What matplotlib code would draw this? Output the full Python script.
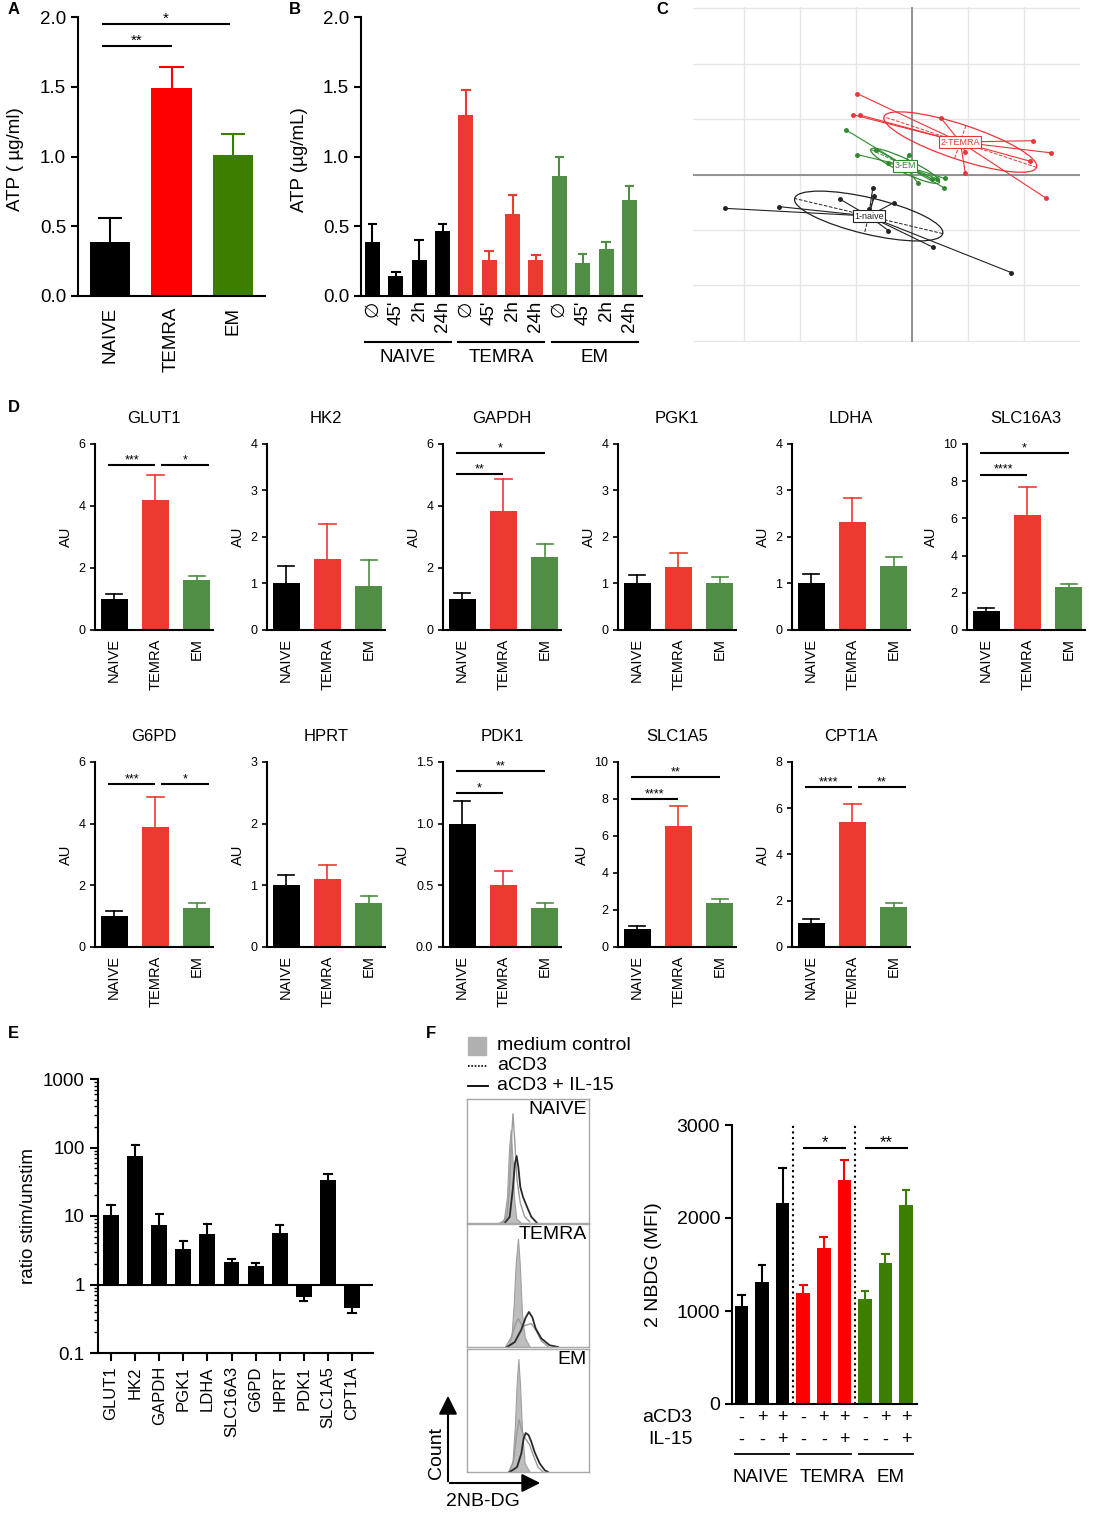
import numpy as np
import matplotlib
matplotlib.use('Agg')
import matplotlib.pyplot as plt
import matplotlib.transforms as mtrans
from matplotlib.patches import Ellipse, Rectangle
from matplotlib.ticker import LogLocator, NullFormatter, FixedFormatter, FixedLocator

plt.rcParams['font.family'] = ['Liberation Sans', 'DejaVu Sans']
plt.rcParams['axes.linewidth'] = 1.5

# ---------------- data ----------------
groups = ['NAIVE', 'TEMRA', 'EM']

# A - ATP of resting subsets
atp_mean = [0.39, 1.49, 1.01]
atp_sem = [0.17, 0.15, 0.15]
atp_sig = [(0, 1, 1.79, '**'), (0, 2, 1.95, '*')]

# B - ATP after stimulation
time_labels = ['\u2205', "45'", '2h', '24h']
atp_naive_t = [0.39, 0.14, 0.26, 0.465]
atp_naive_t_sem = [0.125, 0.035, 0.14, 0.05]
atp_temra_t = [1.30, 0.26, 0.59, 0.26]
atp_temra_t_sem = [0.18, 0.06, 0.135, 0.035]
atp_em_t = [0.86, 0.24, 0.34, 0.685]
atp_em_t_sem = [0.135, 0.06, 0.05, 0.105]

# C - PCA scores per subset
pca_naive = [(-3.33, -0.61), (-2.36, -0.58), (-1.29, -0.44), (-0.70, -0.25), (-0.67, -0.39),
             (-0.76, -0.62), (-0.33, -0.51), (-0.42, -1.01), (0.37, -1.31), (1.77, -1.77)]
pca_temra = [(-0.98, 1.46), (-1.06, 1.08), (-0.92, 1.07), (0.52, 1.01), (2.15, 0.61),
             (2.48, 0.39), (2.10, 0.24), (0.95, 0.40), (0.95, 0.02), (2.39, -0.43)]
pca_em = [(-1.17, 0.80), (-0.98, 0.36), (-0.64, 0.45), (-0.43, 0.20), (-0.06, 0.36),
          (0.10, -0.15), (0.35, -0.08), (0.45, -0.08), (0.58, -0.07), (0.57, -0.24)]

# D - gene expression (AU)
d_genes = ['GLUT1', 'HK2', 'GAPDH', 'PGK1', 'LDHA', 'SLC16A3',
           'G6PD', 'HPRT', 'PDK1', 'SLC1A5', 'CPT1A']
d_mean = [[1.0, 4.2, 1.6], [1.0, 1.52, 0.95], [1.0, 3.84, 2.37], [1.0, 1.36, 1.02],
          [1.0, 2.32, 1.38], [1.0, 6.18, 2.29], [1.0, 3.9, 1.26], [1.0, 1.10, 0.72],
          [1.0, 0.50, 0.32], [0.98, 6.52, 2.38], [1.03, 5.39, 1.71]]
d_sem = [[0.15, 0.8, 0.15], [0.38, 0.76, 0.55], [0.19, 1.02, 0.40], [0.19, 0.30, 0.13],
         [0.2, 0.52, 0.2], [0.16, 1.52, 0.17], [0.17, 0.97, 0.16], [0.17, 0.23, 0.11],
         [0.18, 0.12, 0.036], [0.16, 1.12, 0.21], [0.18, 0.78, 0.19]]
d_ymax = [6, 4, 6, 4, 4, 10, 6, 3, 1.5, 10, 8]
d_ystep = [2, 1, 2, 1, 1, 2, 2, 1, 0.5, 2, 2]
d_sig = [[(0, 1, 5.33, '***'), (1, 2, 5.33, '*')], [],
         [(0, 1, 5.02, '**'), (0, 2, 5.71, '*')], [], [],
         [(0, 1, 8.36, '****'), (0, 2, 9.52, '*')],
         [(0, 1, 5.3, '***'), (1, 2, 5.3, '*')], [],
         [(0, 1, 1.25, '*'), (0, 2, 1.43, '**')],
         [(0, 1, 7.98, '****'), (0, 2, 9.2, '**')],
         [(0, 1, 6.9, '****'), (1, 2, 6.9, '**')]]

# E - ratio stimulated / unstimulated
e_genes = ['GLUT1', 'HK2', 'GAPDH', 'PGK1', 'LDHA', 'SLC16A3',
           'G6PD', 'HPRT', 'PDK1', 'SLC1A5', 'CPT1A']
e_ratio = [10.3, 76, 7.5, 3.3, 5.4, 2.14, 1.85, 5.6, 0.65, 34, 0.45]
e_err_end = [14.4, 108, 10.8, 4.3, 7.7, 2.34, 2.05, 7.5, 0.57, 40.4, 0.385]

# F - 2-NBDG histograms (x, y in % of box)
hist_naive_ctrl = ([25.4, 30.1, 32.8, 34.4, 35.8, 37.2, 38.5, 40.4, 44.5],
                   [0, 2.2, 21, 59, 75, 53.5, 21, 3.5, 0])
hist_naive_cd3 = ([28.1, 32.8, 35.0, 36.6, 37.7, 39.1, 41.0, 43.7, 47.3, 51.4],
                  [0, 5, 32, 70, 88, 67, 35, 16, 5, 1])
hist_naive_il15 = ([30.9, 35.0, 37.7, 39.3, 40.7, 42.1, 43.7, 45.9, 49.2, 52.7, 57.4],
                   [0, 5, 29, 48, 54, 45, 29, 21, 13, 5, 0])
hist_temra_ctrl = ([32.8, 36.3, 38.3, 39.9, 41.8, 43.2, 45.1, 47.3, 51.4],
                   [0, 7, 35, 68, 88, 68, 27, 8, 0])
hist_temra_cd3 = ([31.7, 36.3, 39.9, 42.1, 45.4, 49.2, 52.7, 56.3, 60.9, 66.4],
                  [0, 8, 19, 23, 17, 18, 19, 14, 5, 0.5])
hist_temra_il15 = ([32.8, 39.1, 44.5, 48.1, 50.8, 53.6, 56.3, 60.9, 67.8, 74.6],
                   [0, 4, 14, 24, 28.5, 24, 15, 7, 1.4, 0])
hist_em_ctrl = ([33.6, 37.2, 39.3, 40.7, 42.1, 43.4, 45.1, 47.3, 51.4],
                [0, 7, 39, 72, 92, 72, 34, 7, 0])
hist_em_cd3 = ([34.4, 38.3, 40.4, 42.6, 44.8, 47.3, 51.4, 54.6, 58.2, 62.3],
               [0, 9.5, 28, 42.5, 34, 28, 22, 13, 4, 0])
hist_em_il15 = ([35.0, 41.0, 44.5, 46.4, 48.1, 50.5, 52.7, 55.5, 59.6, 63.7, 66.4],
                [0, 4, 15, 27, 31.7, 30, 24.6, 16, 7, 1.4, 0])

# F - 2-NBDG MFI
f_means = [1049, 1310, 2159, 1192, 1675, 2409, 1131, 1514, 2141]
f_sems = [118, 186, 383, 90, 126, 212, 86, 97, 157]
f_acd3 = ['-', '+', '+'] * 3
f_il15 = ['-', '-', '+'] * 3
f_sig = [(3, 5, 2757, '*'), (6, 8, 2757, '**')]

# ---------------- figure ----------------
W, H = 1097, 1516
fig = plt.figure(figsize=(W / 100, H / 100), dpi=100)

bright = ['black', '#FF0000', '#3C7F00']
soft = ['black', '#EC3A31', '#4F8E44']


def px_axes(l, t, r, b):
    return fig.add_axes([l / W, 1 - b / H, (r - l) / W, (b - t) / H])


def prism(ax, ylen=5, yw=1.5):
    ax.spines['top'].set_visible(False)
    ax.spines['right'].set_visible(False)
    ax.tick_params(axis='y', direction='out', length=ylen, width=yw)
    ax.tick_params(axis='x', length=0)


def bars(ax, x, means, sems, colors, width, capw, lw=1.5):
    ax.bar(x, means, width, color=colors, zorder=2)
    for xi, m, s, c in zip(x, means, sems, colors):
        ax.plot([xi, xi], [m, m + s], color=c, lw=lw, zorder=1)
        ax.plot([xi - capw, xi + capw], [m + s, m + s], color=c, lw=lw, zorder=1)


def sig(ax, x1, x2, y, txt, fs, lw=1.5, dy=-1):
    ax.plot([x1, x2], [y, y], color='black', lw=lw, solid_capstyle='butt', clip_on=False)
    ax.annotate(txt, ((x1 + x2) / 2, y), xytext=(0, dy), textcoords='offset points',
                ha='center', va='bottom', fontsize=fs)


# ---- A ----
ax = px_axes(78, 17, 265, 296)
xa = np.arange(3)
bars(ax, xa, atp_mean, atp_sem, bright, 0.66, 0.18)
for i, j, y, t in atp_sig:
    sig(ax, i - 0.13, j - (0.05 if j == 2 else 0), y, t, 11)
ax.set_xlim(-0.52, 2.52)
ax.set_ylim(0, 2.0)
ax.set_yticks([0, 0.5, 1.0, 1.5, 2.0])
ax.set_yticklabels(['0.0', '0.5', '1.0', '1.5', '2.0'], fontsize=13.5)
ax.set_xticks(xa)
ax.set_xticklabels(groups, rotation=90, fontsize=13.5)
ax.tick_params(axis='x', pad=8)
prism(ax)
ax.set_ylabel('ATP ( \u00b5g/ml)', fontsize=13.5)
ax.yaxis.set_label_coords(-0.29, 0.49)

# ---- B ----
ax = px_axes(361, 17, 642, 296)
xb = np.arange(12)
b_vals = atp_naive_t + atp_temra_t + atp_em_t
b_sems = atp_naive_t_sem + atp_temra_t_sem + atp_em_t_sem
b_cols = [soft[0]] * 4 + [soft[1]] * 4 + [soft[2]] * 4
bars(ax, xb, b_vals, b_sems, b_cols, 0.64, 0.16)
ax.set_xlim(-0.49, 11.54)
ax.set_ylim(0, 2.0)
ax.set_yticks([0, 0.5, 1.0, 1.5, 2.0])
ax.set_yticklabels(['0.0', '0.5', '1.0', '1.5', '2.0'], fontsize=13.5)
ax.set_xticks(xb)
ax.set_xticklabels(time_labels * 3, rotation=90, fontsize=13.5)
ax.tick_params(axis='x', pad=3)
prism(ax)
ax.set_ylabel('ATP (\u00b5g/mL)', fontsize=13.5)
ax.yaxis.set_label_coords(-0.19, 0.49)
tb = mtrans.blended_transform_factory(ax.transData, ax.transAxes)
for g, name in enumerate(groups):
    x0, x1 = g * 4 - 0.33, g * 4 + 3 + 0.35
    ax.plot([x0, x1], [-0.165, -0.165], color='black', lw=1.5, transform=tb, clip_on=False)
    ax.text((x0 + x1) / 2, -0.22, name, ha='center', va='center', fontsize=13.5, transform=tb)

# ---- C ----
ax = px_axes(693, 7, 1080, 342)
ax.set_xlim(-3.9, 2.99)
ax.set_ylim(-3.02, 3.02)
for v in range(-3, 3):
    ax.axvline(v, color='#E6E6E6', lw=1, zorder=0)
for v in range(-3, 4):
    ax.axhline(v, color='#E6E6E6', lw=1, zorder=0)
ax.axvline(0, color='#8A8A8A', lw=1.3, zorder=0.5)
ax.axhline(0, color='#8A8A8A', lw=1.3, zorder=0.5)
for s in ax.spines.values():
    s.set_visible(False)
ax.set_xticks([])
ax.set_yticks([])


def class_ellipse(ax, pts, color, label):
    pts = np.array(pts)
    c = pts.mean(axis=0)
    for p in pts:
        ax.plot([c[0], p[0]], [c[1], p[1]], color=color, lw=0.8)
    ax.plot(pts[:, 0], pts[:, 1], 'o', color=color, ms=2.5)
    cov = np.cov(pts.T, bias=True)
    vals, vecs = np.linalg.eigh(cov)
    half = np.sqrt(vals)
    ang = np.degrees(np.arctan2(vecs[1, 1], vecs[0, 1]))
    ax.add_patch(Ellipse(c, 2 * half[1], 2 * half[0], angle=ang, fill=False, ec=color, lw=0.9))
    for k in range(2):
        d = vecs[:, k] * half[k]
        ax.plot([c[0] - d[0], c[0] + d[0]], [c[1] - d[1], c[1] + d[1]], ls='--', color=color, lw=0.7)
    ax.text(c[0], c[1], label, color=color, fontsize=6.5, ha='center', va='center', zorder=5,
            bbox=dict(boxstyle='square,pad=0.15', fc='white', ec=color, lw=0.8))


class_ellipse(ax, pca_naive, '#222222', '1-naive')
class_ellipse(ax, pca_temra, '#EE3338', '2-TEMRA')
class_ellipse(ax, pca_em, '#2F8A2F', '3-EM')

# ---- D ----
d_lefts = [95, 267, 443, 618, 792, 967]
d_rows = [(444, 630), (762, 947)]
for k, gene in enumerate(d_genes):
    row, col = divmod(k, 6)
    t, b = d_rows[row]
    l = d_lefts[col]
    ax = px_axes(l, t, l + 118, b)
    x = np.arange(3)
    bars(ax, x, d_mean[k], d_sem[k], soft, 0.65, 0.2, lw=1.2)
    for i, j, y, txt in d_sig[k]:
        if i == 0:
            x0, x1 = -0.15, j
        else:
            x0, x1 = i + 0.13, j + 0.3
        sig(ax, x0, x1, y, txt, 9, lw=1.5, dy=-1)
    ax.set_xlim(-0.46, 2.39)
    ax.set_ylim(0, d_ymax[k])
    ticks = np.arange(0, d_ymax[k] + 1e-9, d_ystep[k])
    ax.set_yticks(ticks)
    if d_ystep[k] < 1:
        ax.set_yticklabels(['%.1f' % v for v in ticks], fontsize=9)
    else:
        ax.set_yticklabels(['%d' % v for v in ticks], fontsize=9)
    ax.set_xticks(x)
    ax.set_xticklabels(groups, rotation=90, fontsize=10.5)
    ax.tick_params(axis='x', pad=6)
    prism(ax, ylen=3.5, yw=1.2)
    ax.set_ylabel('AU', fontsize=10.5)
    ax.set_title(gene, fontsize=12, pad=15)

# ---- E ----
ax = px_axes(98, 1079, 373, 1353)
xe = np.arange(len(e_genes))
ax.set_yscale('log')
ratio = np.array(e_ratio)
ax.bar(xe, ratio - 1, 0.66, bottom=1, color='black', zorder=2)
for xi, r, e in zip(xe, e_ratio, e_err_end):
    ax.plot([xi, xi], [r, e], color='black', lw=1.5)
    ax.plot([xi - 0.15, xi + 0.15], [e, e], color='black', lw=1.5)
ax.axhline(1, color='black', lw=1.5, zorder=3)
ax.set_xlim(-0.54, 10.87)
ax.set_ylim(0.1, 1000)
ax.yaxis.set_major_locator(FixedLocator([0.1, 1, 10, 100, 1000]))
ax.yaxis.set_major_formatter(FixedFormatter(['0.1', '1', '10', '100', '1000']))
ax.yaxis.set_minor_locator(LogLocator(base=10, subs=np.arange(2, 10)))
ax.yaxis.set_minor_formatter(NullFormatter())
ax.spines['top'].set_visible(False)
ax.spines['right'].set_visible(False)
ax.tick_params(axis='y', which='major', length=6, width=1.5, labelsize=13.5)
ax.tick_params(axis='y', which='minor', length=3, width=1)
ax.set_xticks(xe)
ax.set_xticklabels(e_genes, rotation=90, fontsize=12)
ax.tick_params(axis='x', length=6, width=1.5)
ax.set_ylabel('ratio stim/unstim', fontsize=13.5)

# ---- F histograms ----
boxes = [(1099, 1223, 'NAIVE', hist_naive_ctrl, hist_naive_cd3, hist_naive_il15),
         (1224, 1347, 'TEMRA', hist_temra_ctrl, hist_temra_cd3, hist_temra_il15),
         (1349, 1472, 'EM', hist_em_ctrl, hist_em_cd3, hist_em_il15)]
for t, b, name, ctrl, cd3, il15 in boxes:
    ax = px_axes(467, t, 589, b)
    ax.fill_between(ctrl[0], ctrl[1], color='#BDBDBD', lw=0.8, edgecolor='#A0A0A0')
    ax.plot(cd3[0], cd3[1], color='#9A9A9A', lw=1.0)
    ax.plot(il15[0], il15[1], color='#2A2A2A', lw=1.3)
    ax.set_xlim(0, 100)
    ax.set_ylim(0, 100)
    ax.set_xticks([])
    ax.set_yticks([])
    for s in ax.spines.values():
        s.set_color('#A8A8A8')
        s.set_linewidth(1)
    ax.text(0.98, 0.98, name, ha='right', va='top', fontsize=14, transform=ax.transAxes)

# ---- F bars ----
ax = px_axes(732, 1125, 917, 1404)
xf = np.arange(9)
f_cols = [bright[0]] * 3 + [bright[1]] * 3 + [bright[2]] * 3
bars(ax, xf, f_means, f_sems, f_cols, 0.66, 0.16)
for v in (2.5, 5.5):
    ax.axvline(v, color='black', ls=':', lw=1.5)
for i, j, y, txt in f_sig:
    sig(ax, i, j + 0.1, y, txt, 12, dy=-2)
ax.set_xlim(-0.47, 8.54)
ax.set_ylim(0, 3000)
ax.set_yticks([0, 1000, 2000, 3000])
ax.set_yticklabels(['0', '1000', '2000', '3000'], fontsize=14)
ax.set_xticks([])
prism(ax)
ax.set_ylabel('2 NBDG (MFI)', fontsize=14)
ax.yaxis.set_label_coords(-0.38, 0.5)
tf = mtrans.blended_transform_factory(ax.transData, ax.transAxes)
for xi, a, il in zip(xf, f_acd3, f_il15):
    ax.text(xi, -0.05, a, ha='center', va='center', fontsize=13, transform=tf)
    ax.text(xi, -0.129, il, ha='center', va='center', fontsize=13, transform=tf)
ax.text(-2.4, -0.05, 'aCD3', ha='right', va='center', fontsize=14, transform=tf)
ax.text(-2.4, -0.129, 'IL-15', ha='right', va='center', fontsize=14, transform=tf)
label_shift = [-0.1, 0.4, 0.25]
for g, name in enumerate(groups):
    x0, x1 = g * 3 - 0.3, g * 3 + 2.33
    ax.plot([x0, x1], [-0.179, -0.179], color='black', lw=1.3, transform=tf, clip_on=False)
    ax.text((x0 + x1) / 2 + label_shift[g], -0.262, name, ha='center', va='center',
            fontsize=13.5, transform=tf)

# ---- overlay: panel letters, histogram legend and axis arrows ----
ov = fig.add_axes([0, 0, 1, 1])
ov.set_xlim(0, W)
ov.set_ylim(H, 0)
ov.axis('off')
ov.patch.set_alpha(0)
for letter, (lx, ly) in zip('ABCDEF', [(8, 10), (289, 10), (656, 10), (8, 408), (8, 1033), (426, 1033)]):
    ov.text(lx, ly, letter, fontsize=12, fontweight='bold', ha='left', va='center')
ov.add_patch(Rectangle((468, 1037), 18, 18, color='#B0B0B0'))
ov.text(497, 1046, 'medium control', fontsize=14, va='center')
ov.plot([468, 488], [1066, 1066], color='black', ls=(0, (1, 1)), lw=1.2)
ov.text(497, 1066, 'aCD3', fontsize=14, va='center')
ov.plot([468, 488], [1086, 1086], color='black', lw=1.3)
ov.text(497, 1086, 'aCD3 + IL-15', fontsize=14, va='center')
ov.annotate('', xy=(448, 1393), xytext=(448, 1484),
            arrowprops=dict(arrowstyle='-|>', lw=1.5, color='black', mutation_scale=28))
ov.annotate('', xy=(543, 1483), xytext=(447, 1483),
            arrowprops=dict(arrowstyle='-|>', lw=1.5, color='black', mutation_scale=28))
ov.text(437, 1453, 'Count', rotation=90, fontsize=14, ha='center', va='center')
ov.text(483, 1501, '2NB-DG', fontsize=14, ha='center', va='center')

fig.savefig('out.png', dpi=100)
